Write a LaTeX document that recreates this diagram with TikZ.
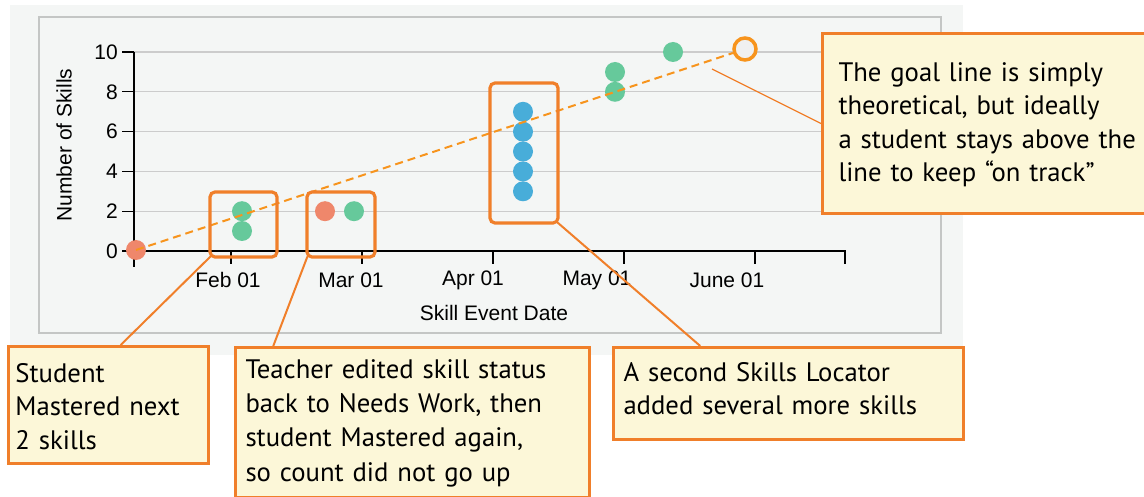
\documentclass[tikz,border=0pt]{standalone}
\usepackage{fontspec}
\setmainfont{Liberation Sans}
\newfontfamily\notefont{PT Sans}
\usetikzlibrary{calc}
\definecolor{panelbg}{HTML}{F4F6F5}
\definecolor{framegray}{HTML}{C4C6C5}
\definecolor{gridgray}{HTML}{CCCCCC}
\definecolor{hiorange}{HTML}{F07F2A}
\definecolor{goalorange}{HTML}{F7941D}
\definecolor{notefill}{HTML}{FCF7D8}
\definecolor{dotred}{HTML}{EF876B}
\definecolor{dotgreen}{HTML}{66C99B}
\definecolor{dotblue}{HTML}{48ADD9}
\tikzset{
  axisline/.style={black, line width=1.3pt},
  gridline/.style={gridgray, line width=1.3pt},
  ticklabel/.style={font=\fontsize{21}{24}\selectfont, inner sep=0pt},
  dotbase/.style={circle, minimum size=20pt, inner sep=0pt, draw=none},
  dotr/.style={dotbase, fill=dotred},
  dotg/.style={dotbase, fill=dotgreen},
  dotb/.style={dotbase, fill=dotblue},
  goalring/.style={circle, minimum size=22pt, inner sep=0pt, draw=goalorange, line width=3.5pt, fill=gray!12},
  goalline/.style={goalorange, line width=2pt, dash pattern=on 8pt off 5pt},
  hibox/.style={draw=hiorange, line width=3.2pt, rounded corners=5pt, inner sep=0pt},
  leader/.style={hiorange, line width=2pt},
  thinleader/.style={hiorange, line width=1.2pt},
  note/.style={draw=hiorange, fill=notefill, line width=3pt, anchor=north west,
    align=left, inner xsep=10pt, inner ysep=0pt,
    font=\notefont\fontsize{26.7}{33.3}\selectfont},
}
\begin{document}
\begin{tikzpicture}[x=1pt,y=-1pt]
\useasboundingbox (0,0) rectangle (1144,497);
\fill[white] (0,0) rectangle (1144,497);

% chart panels
\fill[panelbg] (10,5) rectangle (963,355);
\draw[framegray, line width=1.3pt, fill=panelbg] (39,17) rectangle (941,333);

% horizontal grid
\foreach \yy in {52,91.8,131.6,171.4,211.2} \draw[gridline] (134,\yy) -- (941,\yy);

% axes
\draw[axisline] (134,52) -- (134,267);
\draw[axisline] (134,251) -- (845,251) -- (845,264);
\foreach \yy in {52,91.8,131.6,171.4,211.2,251} \draw[axisline] (122,\yy) -- (134,\yy);
\foreach \xx in {231,362,493,624,755} \draw[axisline] (\xx,251) -- (\xx,264);

% tick labels
\foreach \yy/\lab in {52/10,91.8/8,131.6/6,171.4/4,211.2/2,251/0}
  \node[ticklabel, anchor=east] at (118,\yy) {\lab};
\node[ticklabel] (lfeb) at (228,280) {Feb 01};
\node[ticklabel] (lmar) at (351,280) {Mar 01};
\node[ticklabel] (lapr) at (473,280) {Apr 01};
\node[ticklabel] (lmay) at (597,280) {May 01};
\node[ticklabel] (ljun) at (727,280) {June 01};
\node[ticklabel] (xtitle) at (494,313) {Skill Event Date};
\node[ticklabel, rotate=90] (ytitle) at (64,145) {Number of Skills};

% data points
\node[dotr] (p0) at (136,250) {};
\node[dotg] (pfa) at (242,231) {};
\node[dotg] (pfb) at (242,211.2) {};
\node[dotr] (pma) at (325,211.2) {};
\node[dotg] (pmb) at (354,211.2) {};
\node[dotb] (pa3) at (523,191.3) {};
\node[dotb] (pa4) at (523,171.4) {};
\node[dotb] (pa5) at (523,151.5) {};
\node[dotb] (pa6) at (523,131.7) {};
\node[dotb] (pa7) at (523,111.8) {};
\node[dotg] (py8) at (615,91.8) {};
\node[dotg] (py9) at (615,72) {};
\node[dotg] (pj10) at (673,52) {};

% goal line and goal marker
\node[goalring] (goal) at (745,49) {};
\draw[goalline] (p0.center) -- (goal);
\coordinate (goalpt) at (712,69);

% highlight frames
\node[hibox, minimum width=67pt, minimum height=65pt] (h1) at (243.5,224.5) {};
\node[hibox, minimum width=68pt, minimum height=65pt] (h2) at (341,224.5) {};
\node[hibox, minimum width=68pt, minimum height=140pt] (h3) at (524,153) {};

% callouts: text height = top edge to first baseline, text depth = first baseline to bottom edge
\node[note, text width=186pt, inner xsep=7pt, text height=36pt, text depth=81pt] (c1) at (7,345)
  {Student\\Mastered next\\2 skills};
\node[note, text width=334pt, text height=31pt, text depth=119pt,
      font=\notefont\fontsize{26.7}{34.2}\selectfont] (c2) at (234,346)
  {Teacher edited skill status\\back to Needs Work, then\\student Mastered again,\\so count did not go up};
\node[note, text width=330pt, text height=34pt, text depth=58pt] (c3) at (612,346)
  {A second Skills Locator\\added several more skills};
\node[note, text width=320pt, inner xsep=16pt, text height=48pt, text depth=132pt] (c4) at (821,32)
  {The goal line is simply\\theoretical, but ideally\\a student stays above the\\line to keep “on track”};

% leader lines
\draw[leader] ($(c1.north west)!0.56!(c1.north east)$) -- ($(h1.south west)+(2,-2)$);
\draw[leader] ($(c2.north west)!0.11!(c2.north east)$) -- ($(h2.south west)+(2,-2)$);
\draw[leader] ($(c3.north west)!0.25!(c3.north east)$) -- ($(h3.south east)+(-2,-2)$);
\draw[thinleader] (c4.west) -- (goalpt);
\end{tikzpicture}
\end{document}
